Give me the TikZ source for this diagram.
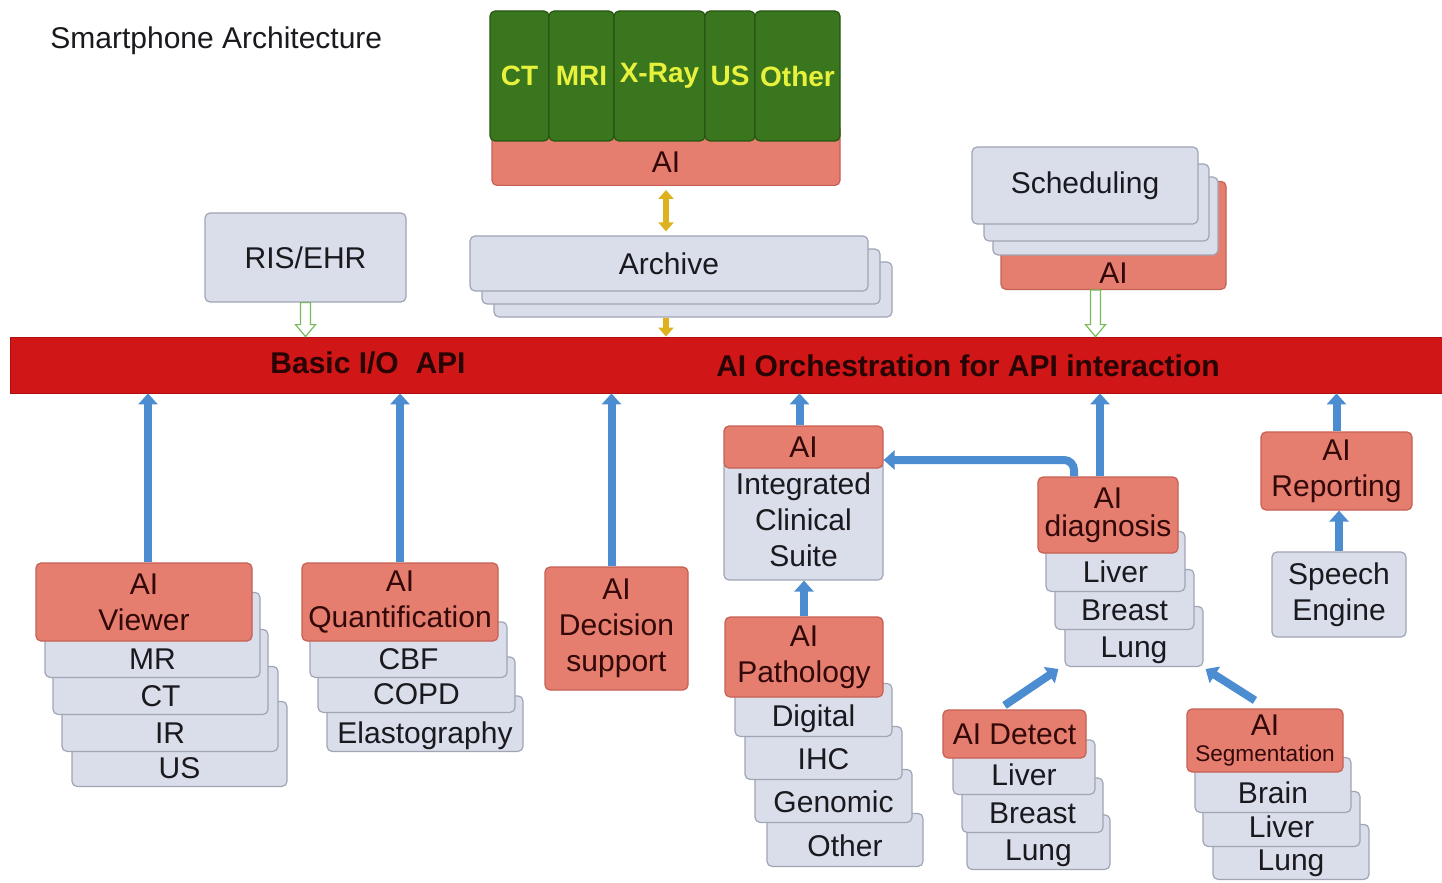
\documentclass[tikz,border=0pt]{standalone}
\usepackage{fontspec}
\setmainfont{Liberation Sans}
\usetikzlibrary{arrows.meta,calc}
\definecolor{pinkfill}{RGB}{229,126,110}
\definecolor{pinkline}{RGB}{196,96,84}
\definecolor{pinktext}{RGB}{50,8,8}
\definecolor{greyfill}{RGB}{218,222,234}
\definecolor{greyline}{RGB}{160,165,180}
\definecolor{greytext}{RGB}{25,25,30}
\definecolor{greenfill}{RGB}{58,118,30}
\definecolor{greenline}{RGB}{38,85,18}
\definecolor{greentext}{RGB}{232,242,60}
\definecolor{barred}{RGB}{208,22,22}
\definecolor{barline}{RGB}{175,15,15}
\definecolor{bartext}{RGB}{40,4,4}
\definecolor{arrowblue}{RGB}{76,140,208}
\definecolor{arrowyellow}{RGB}{222,178,30}
\definecolor{hollowgreen}{RGB}{120,185,90}
\tikzset{pink box/.style={rectangle,rounded corners=2.5pt,draw=pinkline,line width=0.6pt,fill=pinkfill,text=pinktext,inner sep=1pt,font=\fontsize{15}{18}\selectfont},
	grey box/.style={rectangle,rounded corners=2.5pt,draw=greyline,line width=0.6pt,fill=greyfill,text=greytext,inner sep=1pt,font=\fontsize{15}{18}\selectfont},
	green col/.style={rectangle,rounded corners=2.5pt,draw=greenline,line width=0.6pt,fill=greenfill,text=greentext,inner sep=0pt,minimum height=65pt,font=\fontsize{14}{16}\selectfont\bfseries},
	api bar/.style={rectangle,draw=barline,fill=barred,inner sep=0pt},
	bar text/.style={text=bartext,font=\fontsize{15}{18}\selectfont\bfseries},
	sz/.style 2 args={minimum width=#1,minimum height=#2},
	tab/.style 2 args={anchor=south,inner ysep=0pt,text height=#1,text depth=#2},
	blue arrow/.style={line width=4pt,draw=arrowblue,-{Triangle[length=5.5pt,width=9.5pt]}},
	yellow arrow/.style={line width=3pt,draw=arrowyellow,>={Triangle[length=4.5pt,width=7.5pt]}},
	hollow arrow/.style={draw=hollowgreen,line width=0.6pt,fill=white}}

\begin{document}
\begin{tikzpicture}[x=0.5pt,y=-0.5pt]
	\useasboundingbox (0,0) rectangle (1442,883);

	\node (title)	[anchor=west,inner sep=0pt,text=greytext,font=\fontsize{15}{18}\selectfont]	at (50,41)	{Smartphone Architecture};

	% modalities
	\node (gai)	[pink box,tab={23.9pt}{6.6pt},minimum width=174pt]	at (666,186)	{AI};
	\node (ctcol)	[green col,minimum width=29.5pt]	at (519.5,76)	{CT};
	\node (mricol)	[green col,minimum width=32.5pt]	at (581.5,76)	{MRI};
	\node (xraycol)	[green col,minimum width=45.5pt]	at (659.5,76)	{X-Ray};
	\node (uscol)	[green col,minimum width=25pt]	at (730,76)	{US};
	\node (othercol)	[green col,minimum width=42.5pt]	at (797.5,76)	{Other};

	% archive, RIS, scheduling
	\node (arch3)	[grey box,sz={199pt}{27.5pt}]	at (693,289.5)	{};
	\node (arch2)	[grey box,sz={199pt}{27.5pt}]	at (681,276.5)	{};
	\node (arch)	[grey box,sz={199pt}{27.5pt}]	at (669,263.5)	{Archive};
	\node (ris)	[grey box,sz={100.5pt}{44.5pt}]	at (305.5,257.5)	{RIS/EHR};
	\node (sai)	[pink box,tab={51pt}{3pt},minimum width=112.5pt]	at (1113.5,290)	{AI};
	\node (sch3)	[grey box,sz={112.5pt}{39pt}]	at (1105.5,216)	{};
	\node (sch2)	[grey box,sz={112.5pt}{38.5pt}]	at (1096.5,202.5)	{};
	\node (sch)	[grey box,sz={113pt}{38.5pt}]	at (1085,185.5)	{Scheduling};

	% API bar
	\node (bar)	[api bar,sz={716pt}{28pt}]	at (726,365)	{};
	\node (io)	[bar text]	at (368,363)	{Basic I/O\ \ API};
	\node (orch)	[bar text]	at (968,366)	{AI Orchestration for API interaction};

	% viewer
	\node (us)	[grey box,tab={38.75pt}{3.75pt},minimum width=107.5pt]	at (179.5,787)	{US};
	\node (ir)	[grey box,tab={38.75pt}{3.75pt},minimum width=108pt]	at (170,752)	{IR};
	\node (ct)	[grey box,tab={38.75pt}{3.75pt},minimum width=107.5pt]	at (160.5,715)	{CT};
	\node (mr)	[grey box,tab={38.75pt}{3.75pt},minimum width=107.5pt]	at (152.5,678)	{MR};
	\node (viewer)	[pink box,sz={108pt}{39pt},align=center]	at (144,602)	{AI\\Viewer};

	% quantification
	\node (elast)	[grey box,tab={24pt}{3.75pt},minimum width=98pt]	at (425,752)	{Elastography};
	\node (copd)	[grey box,tab={24pt}{3.75pt},minimum width=98.5pt]	at (416.5,713)	{COPD};
	\node (cbf)	[grey box,tab={24pt}{3.75pt},minimum width=98.5pt]	at (408.5,678)	{CBF};
	\node (quant)	[pink box,sz={98pt}{39pt},align=center]	at (400,602)	{AI\\Quantification};

	\node (decision)	[pink box,sz={71.5pt}{61.5pt},align=center]	at (616.5,628.5)	{AI\\Decision\\support};

	% clinical suite and pathology
	\node (ics)	[grey box,sz={79.5pt}{60pt},align=center]	at (803.5,520)	{Integrated\\Clinical\\Suite};
	\node (icsai)	[pink box,sz={79.5pt}{21pt}]	at (803.5,447)	{AI};
	\node (other)	[grey box,tab={21.5pt}{5pt},minimum width=78pt]	at (845,867)	{Other};
	\node (genomic)	[grey box,tab={21.5pt}{5pt},minimum width=78.5pt]	at (833.5,823)	{Genomic};
	\node (ihc)	[grey box,tab={21.5pt}{5pt},minimum width=78.5pt]	at (823.5,780)	{IHC};
	\node (digital)	[grey box,tab={21.5pt}{5pt},minimum width=78.5pt]	at (813.5,737)	{Digital};
	\node (path)	[pink box,sz={79pt}{40pt},align=center]	at (804,657)	{AI\\Pathology};

	% diagnosis
	\node (dlung)	[grey box,tab={25.5pt}{4.5pt},minimum width=69pt]	at (1134,667)	{Lung};
	\node (dbreast)	[grey box,tab={25.5pt}{4.5pt},minimum width=69.5pt]	at (1124.5,630)	{Breast};
	\node (dliver)	[grey box,tab={25.5pt}{4.5pt},minimum width=69.5pt]	at (1115.5,592)	{Liver};
	\node (diag)	[pink box,sz={70pt}{38pt},align=center]	at (1108,515)	{AI\\[-4pt]diagnosis};

	% reporting
	\node (report)	[pink box,sz={75.5pt}{39pt},align=center]	at (1336.5,471)	{AI\\Reporting};
	\node (speech)	[grey box,sz={67pt}{42.5pt},align=center]	at (1339,594.5)	{Speech\\Engine};

	% detect
	\node (tlung)	[grey box,tab={23pt}{4.25pt},minimum width=71.5pt]	at (1038.5,870)	{Lung};
	\node (tbreast)	[grey box,tab={23pt}{4.25pt},minimum width=70.5pt]	at (1032.5,833)	{Breast};
	\node (tliver)	[grey box,tab={23pt}{4.25pt},minimum width=71pt]	at (1024,795)	{Liver};
	\node (detect)	[pink box,sz={71.5pt}{24pt}]	at (1014.5,734)	{AI Detect};

	% segmentation
	\node (slung)	[grey box,tab={23pt}{4.5pt},minimum width=78pt]	at (1291,880)	{Lung};
	\node (sliver)	[grey box,tab={23pt}{4.5pt},minimum width=78.5pt]	at (1281.5,847)	{Liver};
	\node (brain)	[grey box,tab={23pt}{4.5pt},minimum width=78pt]	at (1273,813)	{Brain};
	\node (seg)	[pink box,sz={78pt}{31.5pt},align=center]	at (1265,740.5)	{AI\\[-5pt]{\fontsize{11.3}{13}\selectfont Segmentation}};

	% connectors
	\draw [yellow arrow,<->] ([yshift=-2pt]gai.south) -- ([yshift=2pt]gai.south |- arch.north);
	\draw [yellow arrow,->] (gai.south |- arch3.south) -- (gai.south |- bar.north);
	\draw [hollow arrow] let \p1=(ris.south), \p2=(ris.south |- bar.north) in (\x1-2.5pt,\y1) -- (\x1+2.5pt,\y1) -- (\x1+2.5pt,\y2+6pt) -- (\x1+5pt,\y2+6pt) -- (\x1,\y2) -- (\x1-5pt,\y2+6pt) -- (\x1-2.5pt,\y2+6pt) -- cycle;
	\draw [hollow arrow] let \p1=([xshift=-9pt]sai.south), \p2=([xshift=-9pt]sai.south |- bar.north) in (\x1-2.5pt,\y1) -- (\x1+2.5pt,\y1) -- (\x1+2.5pt,\y2+6pt) -- (\x1+5pt,\y2+6pt) -- (\x1,\y2) -- (\x1-5pt,\y2+6pt) -- (\x1-2.5pt,\y2+6pt) -- cycle;

	\draw [blue arrow] ([xshift=2pt]viewer.north) -- ([xshift=2pt]viewer.north |- bar.south);
	\draw [blue arrow] (quant.north) -- (quant.north |- bar.south);
	\draw [blue arrow] ([xshift=-2.5pt]decision.north) -- ([xshift=-2.5pt]decision.north |- bar.south);
	\draw [blue arrow] ([xshift=-2pt]icsai.north) -- ([xshift=-2pt]icsai.north |- bar.south);
	\draw [blue arrow] (path.north) -- (path.north |- ics.south);
	\draw [blue arrow] ([xshift=-4pt]diag.north) -- ([xshift=-4pt]diag.north |- bar.south);
	\draw [blue arrow,rounded corners=5pt] ([xshift=-17pt]diag.north) |- ([yshift=-6.5pt]icsai.east);
	\draw [blue arrow] (report.north) -- (report.north |- bar.south);
	\draw [blue arrow] (speech.north) -- (speech.north |- report.south);
	\draw [blue arrow] ([xshift=-5pt,yshift=2pt]detect.north) -- ([xshift=-3pt,yshift=-1pt]dlung.south west);
	\draw [blue arrow] ([xshift=-5pt,yshift=4pt]seg.north) -- ([xshift=1pt,yshift=-1pt]dlung.south east);
\end{tikzpicture}
\end{document}
